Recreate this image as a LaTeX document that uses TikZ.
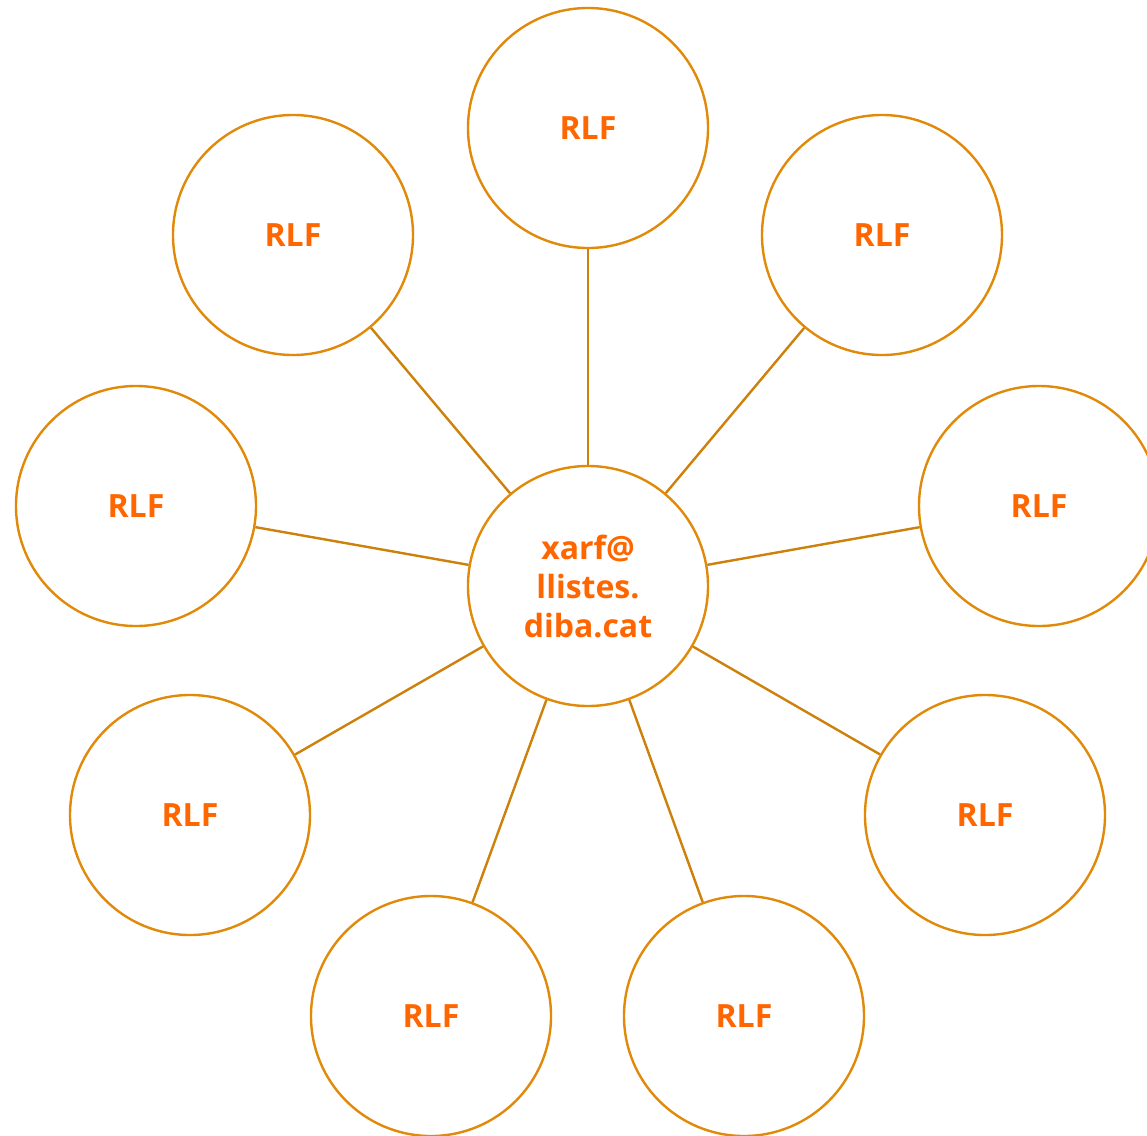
\documentclass[tikz,border=0pt]{standalone}
\usepackage{fontspec}
\setmainfont{Open Sans}
\definecolor{ringcol}{RGB}{225,138,10}
\definecolor{linecol}{RGB}{205,128,10}
\definecolor{textcol}{RGB}{255,102,0}
\begin{document}
\begin{tikzpicture}[x=1pt,y=-1pt,
  ring/.style={circle,draw=ringcol,line width=2.4pt,minimum size=240pt,inner sep=0pt,
    font=\fontsize{32}{39}\selectfont\bfseries,text=textcol,align=center},
  link/.style={draw=linecol,line width=2.4pt}]
\useasboundingbox (0,0) rectangle (1147,1135);
\node[ring] (c) at (588,586) {xarf@\\llistes.\\diba.cat};
\node[ring] (n1) at (588,128) {RLF};
\node[ring] (n2) at (882,235) {RLF};
\node[ring] (n3) at (1039,506) {RLF};
\node[ring] (n4) at (985,815) {RLF};
\node[ring] (n5) at (744,1016) {RLF};
\node[ring] (n6) at (431,1016) {RLF};
\node[ring] (n7) at (190,815) {RLF};
\node[ring] (n8) at (136,506) {RLF};
\node[ring] (n9) at (293,235) {RLF};
\foreach \i in {1,...,9} \draw[link] (c) -- (n\i);
\end{tikzpicture}
\end{document}
